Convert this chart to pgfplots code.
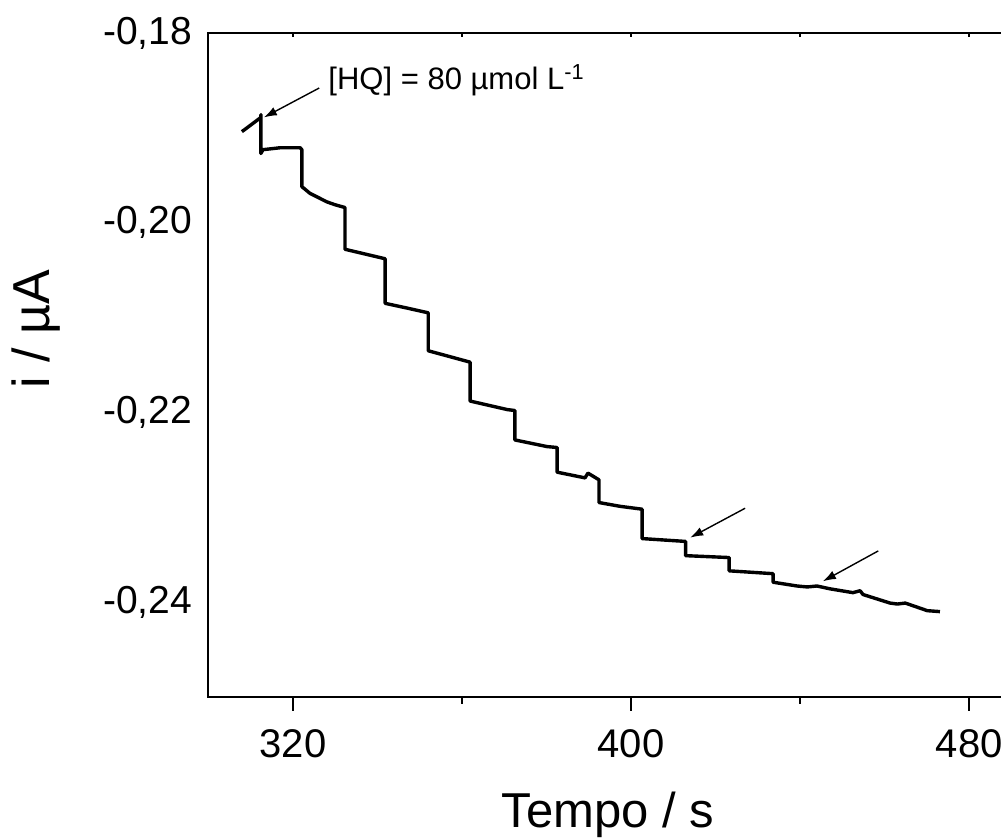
\documentclass[border=0pt]{standalone}
\usepackage{fontspec}
\setmainfont{Liberation Sans}
\usepackage{pgfplots}
\pgfplotsset{compat=1.18}
\usetikzlibrary{arrows.meta}
\begin{document}
\begin{tikzpicture}
\begin{scope}
\clip (-104.25pt,-70.5pt) rectangle (396.25pt,348.5pt);
\begin{axis}[
  at={(0pt,0pt)}, anchor=south west,
  scale only axis, width=399.75pt, height=332pt,
  xmin=300, xmax=489.2, ymin=-0.25, ymax=-0.18,
  axis line style={line width=1pt},
  xtick={320,400,480}, minor xtick={360,440},
  ytick={-0.24,-0.22,-0.20,-0.18},
  xtick pos=bottom, ytick pos=left,
  xtick align=outside, ytick align=inside,
  major tick length=7pt, minor tick length=3.5pt,
  every tick/.style={black, line width=1pt},
  ytick style={draw=none},
  /pgf/number format/assume math mode=true,
  yticklabel style={/pgf/number format/.cd, fixed, fixed zerofill, precision=2, use comma, /tikz/.cd,
     font=\fontsize{19.5}{22}\selectfont, xshift=-4.7pt},
  xticklabel style={font=\fontsize{20}{23}\selectfont, yshift=-6pt},
  xlabel={Tempo / s},
  ylabel={i / µA},
  xlabel style={at={(axis description cs:0,0)}, anchor=north, inner sep=0pt, xshift=199.75pt, yshift=-47.5pt, font=\fontsize{24.5}{28}\selectfont},
  ylabel style={at={(axis description cs:0,0.554)}, anchor=base, yshift=79.25pt, font=\fontsize{26}{30}\selectfont},
  clip=false,
]
\addplot[black, line width=1.7pt, line join=round] table {
x y
307.9 -0.1904
312.4 -0.1889
312.4 -0.1886
312.4 -0.1927
312.9 -0.1923
316.9 -0.1921
321.7 -0.1921
322.1 -0.1923
322.1 -0.1962
324.0 -0.1969
328.0 -0.1978
329.9 -0.1981
332.3 -0.1984
332.3 -0.2028
341.8 -0.2038
341.8 -0.2085
347.0 -0.2090
352.0 -0.2095
352.0 -0.2135
361.9 -0.2147
361.9 -0.2188
370.7 -0.2197
372.5 -0.2198
372.5 -0.2229
380.1 -0.2236
382.5 -0.2237
382.5 -0.2263
389.1 -0.2269
389.8 -0.2264
392.4 -0.2271
392.4 -0.2295
397.4 -0.2299
402.6 -0.2302
402.6 -0.2333
412.9 -0.2336
412.9 -0.2351
423.2 -0.2353
423.2 -0.2367
433.6 -0.2370
433.6 -0.2379
439.3 -0.2383
441.7 -0.2384
444.0 -0.2383
447.1 -0.2386
452.5 -0.2390
454.2 -0.2388
454.9 -0.2392
461.3 -0.2401
463.0 -0.2402
464.9 -0.2401
470.1 -0.2409
473.1 -0.2410
};
\draw[-{Latex[length=6.5pt,width=4.5pt]}, line width=0.7pt] (axis cs:326.2,-0.1858) -- (axis cs:313.1,-0.1889);
\draw[-{Latex[length=6.5pt,width=4.5pt]}, line width=0.7pt] (axis cs:427.0,-0.2301) -- (axis cs:414.0,-0.2332);
\draw[-{Latex[length=6.5pt,width=4.5pt]}, line width=0.7pt] (axis cs:458.5,-0.2346) -- (axis cs:445.4,-0.2378);
\node[anchor=west, inner sep=0pt, font=\fontsize{15.5}{18}\selectfont] at (axis cs:328.3,-0.1850) {[HQ] = 80 µmol L\textsuperscript{-1}};
\end{axis}
\begin{axis}[
  at={(0pt,0pt)}, anchor=south west,
  scale only axis, width=399.75pt, height=332pt,
  xmin=300, xmax=489.2, ymin=-0.25, ymax=-0.18,
  axis line style={draw=none},
  xtick={320,400,480}, minor xtick={360,440},
  xticklabels={}, ytick=\empty,
  xtick pos=top, xtick align=inside,
  major tick length=2pt, minor tick length=2pt,
  every tick/.style={black, line width=0.8pt},
]
\end{axis}
\end{scope}
\pgfresetboundingbox
\path[use as bounding box] (-104.25pt,-70.5pt) rectangle (396.25pt,348.5pt);
\end{tikzpicture}
\end{document}
